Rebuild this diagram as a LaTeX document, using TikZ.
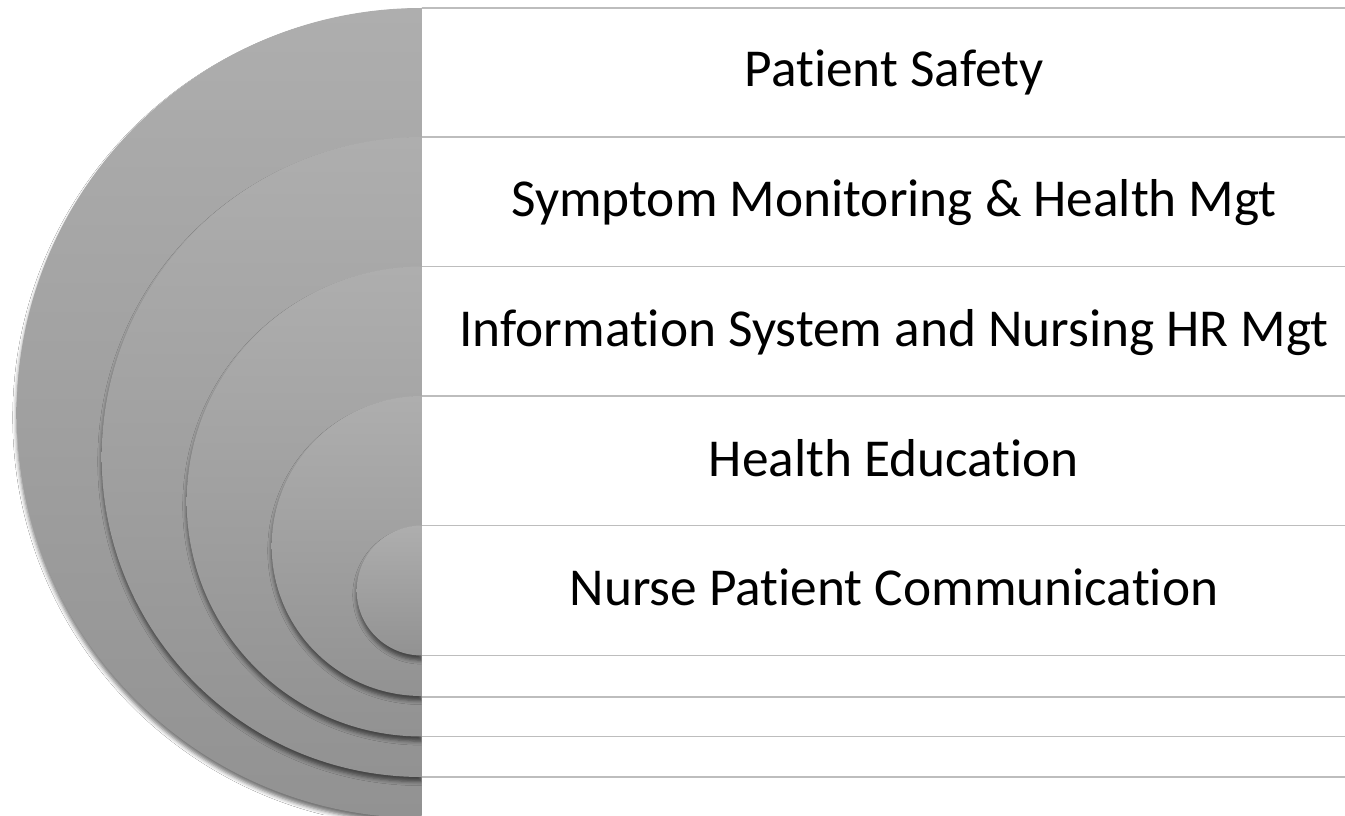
\documentclass[tikz,border=0pt]{standalone}
\usepackage{fontspec}
\setmainfont{Carlito}[RawFeature=-liga, RawFeature=-clig, RawFeature=-calt, RawFeature=-dlig]
\usetikzlibrary{shadows.blur}
\definecolor{discTop}{HTML}{AEAEAE}
\definecolor{discBot}{HTML}{929292}
\definecolor{ruleGray}{HTML}{BDBDBD}
\tikzset{
  halfdisc/.style={top color=discTop, bottom color=discBot, draw=none,
    blur shadow={shadow xshift=0pt, shadow yshift=-3.5pt,
      shadow blur radius=3pt, shadow opacity=55}},
  rule/.style={draw=ruleGray, line width=1.4pt},
  label/.style={anchor=base, inner sep=0pt, font=\fontsize{40}{48}\selectfont, text=black}
}
\begin{document}
\begin{tikzpicture}[x=0.75pt, y=0.75pt]
  \useasboundingbox (0,0) rectangle (1345,815);
  \fill[white] (0,0) rectangle (1345,815);
  % nested left half-discs, largest first; the edge x = 421.7 is shared
  \begin{scope}
    \clip (0,0) rectangle (421.7,815);
    \foreach \cy/\r in {402/405, 358/320, 313.5/235, 269/150, 224.5/65}{
      \path[halfdisc] (421.7,\cy+\r) arc[start angle=90, end angle=270, radius=\r] -- cycle;
    }
  \end{scope}
  % horizontal rules at the tops and bottoms of the half-discs
  \foreach \yy [count=\i] in {807, 678, 548.5, 419, 289.5, 159.5, 118, 78.5, 38}{
    \coordinate (l\i) at (421.7,\yy);
    \coordinate (r\i) at (1345,\yy);
    \draw[rule] (l\i) -- (r\i);
  }
  % band labels
  \node[label] (t1) at (894,728) {Patient Safety};
  \node[label] (t2) at (894,598.5) {Symptom Monitoring \& Health Mgt};
  \node[label] (t3) at (894,468.5) {Information System and Nursing HR Mgt};
  \node[label] (t4) at (894,339) {Health Education};
  \node[label] (t5) at (894,209.5) {Nurse Patient Communication};
\end{tikzpicture}
\end{document}
